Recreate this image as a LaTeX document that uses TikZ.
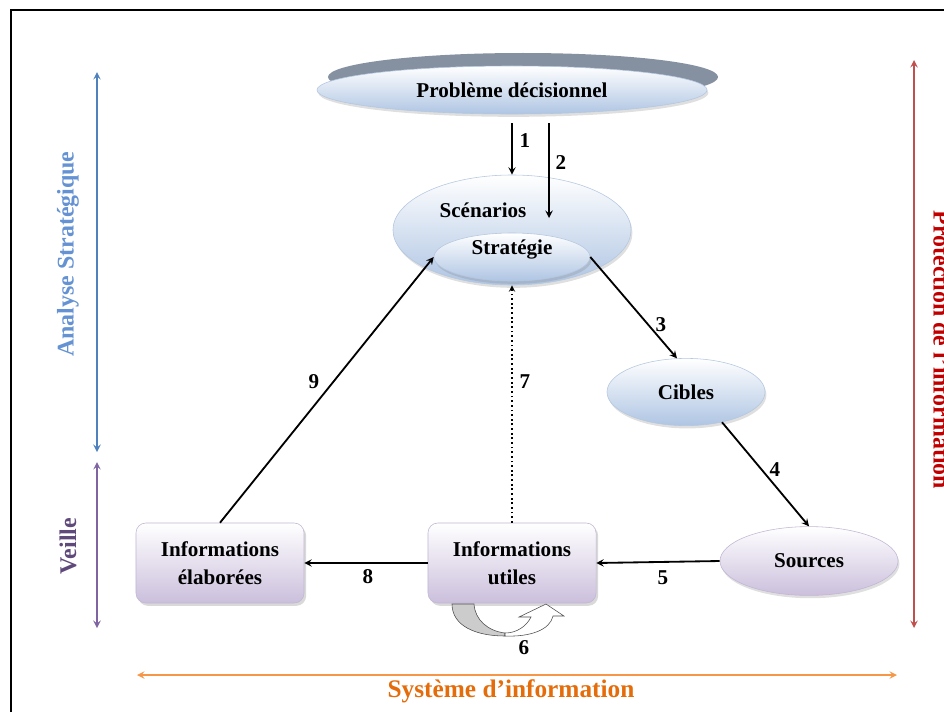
\documentclass[tikz,border=0pt]{standalone}
\usepackage{fontspec}
\setmainfont{Liberation Serif}
\usepackage{tikz}
\usetikzlibrary{positioning,shapes.geometric,shadows,calc}
\usepackage{xcolor}

\definecolor{bleuell}{HTML}{AFC5E3}
\definecolor{bleutrait}{HTML}{B4C7E0}
\definecolor{mauve}{HTML}{CBBFDC}
\definecolor{mauvetrait}{HTML}{C2B6D4}
\definecolor{dosgris}{HTML}{8590A1}
\definecolor{axebleu}{HTML}{4F81BD}
\definecolor{txtbleu}{HTML}{6492D2}
\definecolor{axemauve}{HTML}{8064A2}
\definecolor{txtmauve}{HTML}{5F497A}
\definecolor{axerouge}{HTML}{C0504D}
\definecolor{txtrouge}{HTML}{C00000}
\definecolor{axeorange}{HTML}{F79646}
\definecolor{txtorange}{HTML}{E46C0A}

\newcommand{\txtnoeud}{\bfseries\fontsize{15}{20}\selectfont}
\newcommand{\txtcote}{\bfseries\fontsize{17}{20}\selectfont}

\tikzset{
    bulle/.style={ellipse, draw=bleutrait, thin, top color=white, bottom color=bleuell, inner sep=0pt,
        drop shadow={opacity=0.25, shadow xshift=1pt, shadow yshift=-2pt}},
    boite/.style={rectangle, rounded corners=7pt, draw=mauvetrait, thin, top color=white, bottom color=mauve,
        minimum width=4.2cm, minimum height=2cm, align=center,
        drop shadow={opacity=0.3, shadow xshift=1.5pt, shadow yshift=-2pt}},
    fleche/.style={->, line width=1.3pt},
    axe/.style={<->, line width=1.3pt},
}

\begin{document}
\begin{tikzpicture}[x=0.025cm, y=-0.025cm, >=stealth, font=\txtnoeud]
    \useasboundingbox (0,0) rectangle (944,712);
    \clip (0,0) rectangle (944,712);
    % Cadre
    \draw[line width=1.6pt] (11,712) -- (11,10) -- (944,10);

    % Probleme decisionnel
    \node[ellipse, fill=dosgris, minimum width=9.75cm, minimum height=1.2cm] (pbdos) at (523,77) {};
    \node[bulle, minimum width=9.75cm, minimum height=1.2cm] (pb) at (512,90) {Problème décisionnel};

    % Scenarios et strategie
    \node[bulle, minimum width=5.95cm, minimum height=2.75cm] (sc) at (512,230) {};
    \node (sctxt) at (483,210) {Scénarios};
    \node[bulle, minimum width=3.9cm, minimum height=1.2cm] (st) at (512,257) {};
    \node (sttxt) at (512,249) {Stratégie};

    % Cibles et sources
    \node[bulle, minimum width=3.95cm, minimum height=1.68cm] (ci) at (686,392) {Cibles};
    \node[bulle, draw=mauvetrait, bottom color=mauve, minimum width=4.45cm, minimum height=1.72cm] (so) at (809,561) {Sources};

    % Boites d'informations
    \node[boite] (ut) at (512,563) {Informations\\utiles};
    \node[boite] (el) at (220,563) {Informations\\élaborées};

    % Fleches numerotees
    \draw[fleche] ($(pb.south)+(0,9)$) -- (sc.north);
    \draw[fleche] ($(pb.south)+(37,9)$) -- ($(sc.center)+(37,-12)$);
    \draw[fleche] (st.east) -- (ci.105);
    \draw[fleche] (ci.-40) -- (so.north);
    \draw[fleche] (so.west) -- (ut.east);
    \draw[fleche] (ut.west) -- (el.east);
    \draw[fleche] (el.north) -- (st.west);
    \draw[fleche, dotted, line width=1pt] (ut.north) -- (sc.south);

    \foreach \x/\y/\n in {525/141/1, 561/163/2, 661/325/3, 775/470/4, 663/578/5, 524/648/6, 525/382/7, 368/577/8, 314/382/9} {
        \node (num\n) at (\x,\y) {\n};
    }

    % Fleche circulaire 6
    \filldraw[fill=gray!40, draw=black!70, thin] (452,604) .. controls (452,626) and (476,636) .. (505,636)
        -- (505,633) .. controls (488,631) and (475,620) .. (474,604) -- cycle;
    \filldraw[fill=white, draw=black!70, thin] (505,636) .. controls (530,637) and (550,630) .. (553,616)
        -- (564,616) -- (546,604) -- (519,617) -- (531,617) .. controls (526,627) and (516,633) .. (505,633) -- cycle;

    % Axes lateraux
    \draw[axe, axebleu] (97,72) -- (97,452);
    \draw[axe, axemauve] (97,462) -- (97,628);
    \draw[axe, axerouge] (914,60) -- (914,628);
    \draw[axe, axeorange] (137,675) -- (897,675);
    \node[rotate=90, text=txtbleu, font=\txtcote] (analyse) at (68,254) {Analyse Stratégique};
    \node[rotate=90, text=txtmauve, font=\txtcote] (veille) at (68,546) {Veille};
    \node[rotate=-90, text=txtrouge, font=\txtcote] (protection) at (942,350) {Protection de l'information};
    \node[text=txtorange, font=\bfseries\fontsize{18}{20}\selectfont] (systeme) at (511,691) {Système d'information};
\end{tikzpicture}
\end{document}
